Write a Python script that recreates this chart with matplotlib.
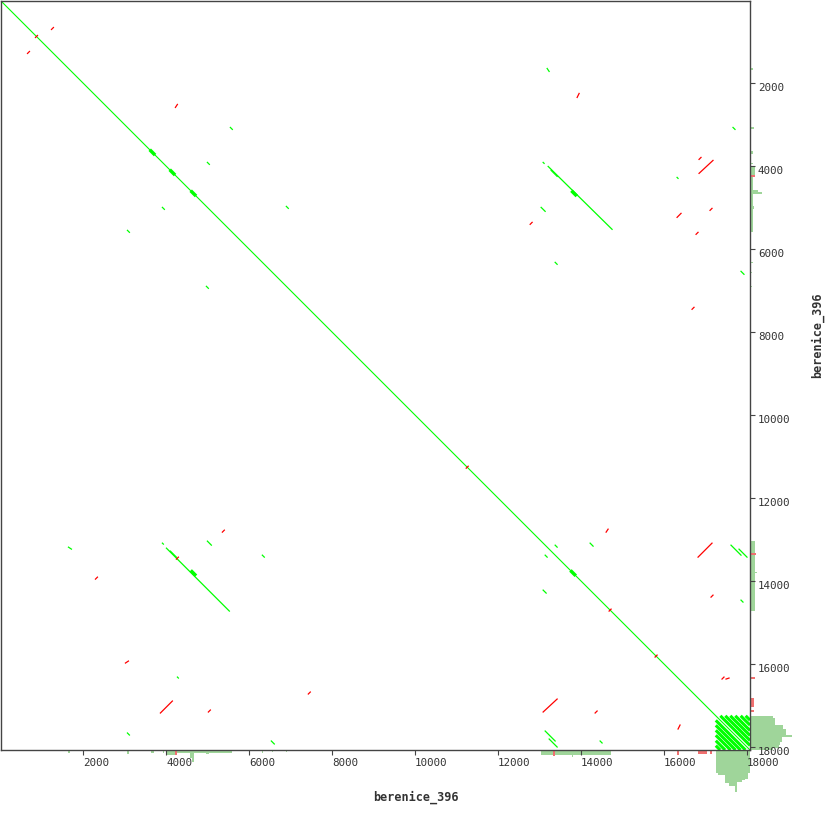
import matplotlib
matplotlib.use('Agg')
import matplotlib.pyplot as plt

plt.rcParams['font.family'] = ['DejaVu Sans Mono']

# sequence compared against itself
seq_name = 'berenice_396'
seq_len = 18075
tick_vals = [2000, 4000, 6000, 8000, 10000, 12000, 14000, 16000, 18000]

# forward matches (x0, y0, x1, y1) in bp
fwd_segs = [
    (5543, 3061, 5591, 3109), (3061, 5543, 3109, 5591),
    (4989, 3904, 5037, 3952), (3904, 4989, 3952, 5037),
    (6893, 4965, 6941, 5013), (4965, 6893, 5013, 6941),
    (13183, 1639, 13231, 1711), (1639, 13183, 1711, 13231),
    (17665, 3061, 17714, 3109), (3061, 17665, 3109, 17714),
    (13086, 3904, 13110, 3928), (3904, 13086, 3928, 13110),
    (13207, 4001, 14749, 5519), (4001, 13207, 5519, 14725),
    (13279, 4097, 13424, 4242), (4097, 13279, 4242, 13424),
    (16316, 4266, 16340, 4290), (4266, 16316, 4290, 16340),
    (13038, 4989, 13135, 5085), (4989, 13038, 5085, 13135),
    (13376, 6314, 13424, 6362), (6314, 13376, 6362, 13424),
    (17858, 6531, 17930, 6603), (6531, 17858, 6603, 17930),
    (14219, 13086, 14291, 13159), (13086, 14219, 13159, 14291),
    (13376, 13135, 13424, 13183), (13135, 13376, 13183, 13424),
    (17858, 14460, 17906, 14508), (14460, 17858, 14508, 17906),
    (17617, 13135, 17858, 13376), (17810, 13231, 18003, 13424),
    (13135, 17617, 13376, 17858), (13231, 17810, 13424, 18003),
]

# reverse matches (x0, y0, x1, y1) in bp
rev_segs = [
    (1229, 699, 1277, 651), (651, 1277, 699, 1229), (843, 892, 892, 843),
    (4218, 2579, 4266, 2506), (13906, 2338, 13954, 2241),
    (16846, 4169, 17183, 3856), (16846, 3832, 16894, 3784),
    (12773, 5398, 12821, 5350), (16316, 5230, 16412, 5133),
    (17111, 5061, 17159, 5013), (16774, 5639, 16822, 5591),
    (16677, 7447, 16725, 7399), (5350, 12821, 5398, 12773),
    (4242, 13472, 4290, 13424), (2290, 13954, 2338, 13906),
    (3013, 15978, 3085, 15930), (3856, 17183, 4145, 16894),
    (5013, 17159, 5061, 17111), (7423, 16725, 7471, 16677),
    (14605, 12821, 14653, 12749), (16822, 13424, 17159, 13086),
    (17135, 14388, 17183, 14340), (14677, 14725, 14725, 14677),
    (15786, 15834, 15834, 15786), (11231, 11279, 11279, 11231),
    (17400, 16364, 17448, 16316), (17497, 16364, 17569, 16340),
    (13086, 17159, 13424, 16846), (14340, 17183, 14388, 17135),
    (16340, 17569, 16388, 17473),
]

# small tandem repeats (centre x, centre y)
blobs = [(3663, 3663), (4145, 4145), (4651, 4651), (13809, 13809),
         (13833, 4651), (4651, 13809)]

# tandem repeat block at the end of the sequence
repeat_start = 17250
repeat_offsets = [-720, -600, -470, -350, -230, -110, 110, 230, 350, 470, 600, 720]

# coverage (start, end, depth)
cov_green = [
    (1639, 1687, 3), (3061, 3109, 4), (3639, 3711, 3), (3928, 3952, 3),
    (4001, 4218, 5), (4218, 4579, 3), (4579, 4627, 8), (4627, 4675, 12),
    (4675, 4965, 3), (4965, 5037, 4), (5037, 5591, 3), (6314, 6338, 3),
    (6555, 6579, 2), (6893, 6917, 2), (13038, 13785, 5), (13785, 13809, 7),
    (13809, 14725, 5), (17256, 17304, 23), (17304, 17473, 25),
    (17473, 17569, 33), (17569, 17714, 36), (17714, 17762, 42),
    (17762, 17882, 32), (17882, 17955, 30), (17955, 18027, 29),
    (18027, 18075, 23),
]
cov_red = [(4218, 4266, 5), (13327, 13376, 6), (16316, 16364, 5),
           (16822, 17039, 4), (17111, 17159, 4)]

fwd_col = '#00ff00'
rev_col = '#ff0000'
hist_green = '#9fd59a'
hist_red = '#f07070'

W = 830.0
fig = plt.figure(figsize=(8.3, 8.3), dpi=100)
ax_b = fig.add_axes([0.5 / W, 30 / W, 749.5 / W, 50 / W])
ax_r = fig.add_axes([750 / W, 80 / W, 50 / W, 749.5 / W])
ax = fig.add_axes([0.5 / W, 80 / W, 749.5 / W, 749.5 / W])
ax_b.set_zorder(1)
ax_r.set_zorder(1)
ax.set_zorder(2)

# main diagonal
ax.plot([0, seq_len], [0, seq_len], color=fwd_col, lw=0.8)

for off in repeat_offsets:
    x0 = repeat_start - min(off, 0)
    x1 = seq_len - max(off, 0)
    ax.plot([x0, x1], [x0 + off, x1 + off], color=fwd_col, lw=2.2,
            solid_capstyle='butt')

for x0, y0, x1, y1 in fwd_segs:
    ax.plot([x0, x1], [y0, y1], color=fwd_col, lw=0.9)
for x0, y0, x1, y1 in rev_segs:
    ax.plot([x0, x1], [y0, y1], color=rev_col, lw=0.9)
for bx, by in blobs:
    ax.plot([bx - 35, bx + 35], [by - 35, by + 35], color=fwd_col, lw=2.5)

ax.set_xlim(0, seq_len)
ax.set_ylim(seq_len, 0)
ax.xaxis.tick_bottom()
ax.yaxis.tick_right()
ax.set_xticks(tick_vals)
ax.set_yticks(tick_vals)
ax.tick_params(direction='out', length=3.6, width=0.8, color='#444',
               labelsize=7.8, labelcolor='#333', pad=2)
for lab in ax.get_xticklabels():
    lab.set_horizontalalignment('left')
for lab in ax.get_yticklabels():
    lab.set_verticalalignment('top')
for sp in ax.spines.values():
    sp.set_color('#444')
    sp.set_linewidth(1.0)

# coverage histograms
for cov, col in [(cov_green, hist_green), (cov_red, hist_red)]:
    starts = [c[0] for c in cov]
    widths = [c[1] - c[0] for c in cov]
    depth = [c[2] for c in cov]
    ax_b.bar(starts, depth, width=widths, align='edge', color=col, linewidth=0)
    ax_r.barh(starts, depth, height=widths, align='edge', color=col, linewidth=0)
ax_b.set_xlim(0, seq_len)
ax_b.set_ylim(50, 0)
ax_b.axis('off')
ax_r.set_ylim(seq_len, 0)
ax_r.set_xlim(0, 50)
ax_r.axis('off')

fig.text(416 / W, 1 - 797 / W, seq_name, ha='center', va='center',
         fontsize=8.5, fontweight='bold', color='#333')
fig.text(817 / W, 1 - 335 / W, seq_name, ha='center', va='center',
         rotation=90, fontsize=8.5, fontweight='bold', color='#333')

fig.savefig('out.png', dpi=100)
